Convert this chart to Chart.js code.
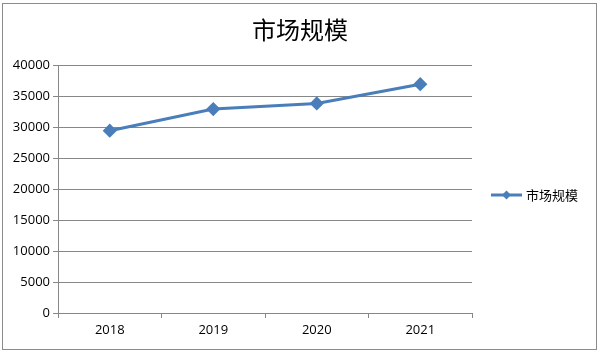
<!DOCTYPE html>
<html>
<head>
<meta charset="utf-8">
<script src="https://cdn.jsdelivr.net/npm/chart.js@4"></script>
<style>
  body { margin: 0; background: #fff; }
  #wrap { position: relative; width: 600px; height: 354px; }
</style>
</head>
<body>
<div id="wrap"><canvas id="lineChart" width="600" height="354"></canvas></div>
<script>
// data
const years = ["2018", "2019", "2020", "2021"];
const marketSize = [29400, 32900, 33800, 36900];
const seriesName = "市场规模";
const chartTitle = "市场规模";

const lineColor = "#4a7ebb";
const gridColor = "#878787";

// border, title centred on the whole picture, and the legend on the right
const frameAndLegend = {
  id: "frameAndLegend",
  afterDraw(chart) {
    const ctx = chart.ctx;
    ctx.save();
    ctx.strokeStyle = "#8c8c8c";
    ctx.lineWidth = 1;
    ctx.strokeRect(2.5, 3.5, 594, 346);

    ctx.fillStyle = "#000";
    ctx.font = '24px "Noto Sans CJK SC"';
    ctx.textAlign = "center";
    ctx.textBaseline = "middle";
    ctx.fillText(chartTitle, 300, 30);

    // legend
    const y = 195;
    ctx.strokeStyle = lineColor;
    ctx.lineWidth = 3;
    ctx.beginPath();
    ctx.moveTo(491, y);
    ctx.lineTo(522, y);
    ctx.stroke();
    ctx.fillStyle = lineColor;
    ctx.beginPath();
    ctx.moveTo(506.5, y - 4.5);
    ctx.lineTo(511, y);
    ctx.lineTo(506.5, y + 4.5);
    ctx.lineTo(502, y);
    ctx.closePath();
    ctx.fill();
    ctx.fillStyle = "#000";
    ctx.font = '13px "Noto Sans CJK SC"';
    ctx.textAlign = "left";
    ctx.fillText(seriesName, 526, y);
    ctx.restore();
  },
};

const config = {
  type: "line",
  data: {
    labels: years,
    datasets: [
      {
        label: seriesName,
        data: marketSize,
        borderColor: lineColor,
        backgroundColor: lineColor,
        borderWidth: 3,
        pointStyle: "rectRot",
        pointRadius: 5,
        pointHoverRadius: 5,
        tension: 0,
      },
    ],
  },
  options: {
    responsive: false,
    animation: false,
    layout: { padding: { left: 2, right: 128, top: 65, bottom: 9 } },
    plugins: {
      legend: { display: false },
      tooltip: { enabled: false },
      title: { display: false },
    },
    scales: {
      y: {
        min: 0,
        max: 40000,
        ticks: {
          stepSize: 5000,
          color: "#000",
          font: { family: "Open Sans", size: 13 },
          padding: 3,
          callback: (v) => String(v),
        },
        grid: { color: gridColor, tickLength: 5 },
        border: { color: gridColor },
        afterFit(scale) {
          scale.width = 56;
        },
      },
      x: {
        offset: true,
        ticks: { color: "#000", font: { family: "Open Sans", size: 13 }, padding: 4 },
        grid: { offset: true, drawOnChartArea: false, color: gridColor, tickLength: 5 },
        border: { color: gridColor },
        afterFit(scale) {
          scale.height = 32;
        },
      },
    },
  },
  plugins: [frameAndLegend],
};

const chart = new Chart(document.getElementById("lineChart"), config);
</script>
</body>
</html>
